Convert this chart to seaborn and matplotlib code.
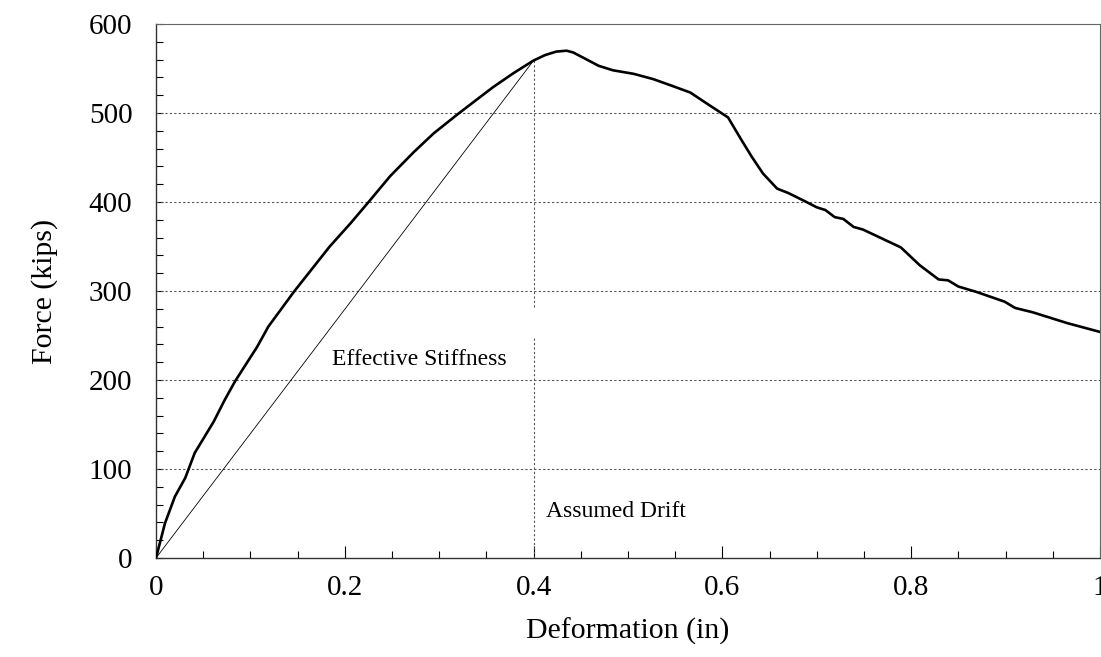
import matplotlib
matplotlib.use("Agg")
import matplotlib.pyplot as plt
from matplotlib.ticker import MultipleLocator
import seaborn as sns
import pandas as pd

# ---- data ----
deformation = [0.0, 0.0095, 0.020, 0.031, 0.041, 0.061, 0.073, 0.084, 0.107, 0.119,
               0.146, 0.184, 0.206, 0.226, 0.248, 0.273, 0.294, 0.320, 0.357, 0.379,
               0.400, 0.412, 0.424, 0.435, 0.442, 0.451, 0.469, 0.484, 0.506, 0.527,
               0.548, 0.566, 0.583, 0.606, 0.620, 0.631, 0.643, 0.658, 0.670, 0.689,
               0.700, 0.709, 0.719, 0.728, 0.739, 0.749, 0.767, 0.789, 0.809, 0.829,
               0.839, 0.850, 0.869, 0.899, 0.910, 0.929, 0.965, 1.000]
force = [0, 39, 69, 90, 118, 153, 178, 199, 237, 260,
         299, 350, 376, 401, 429, 456, 477, 499, 529, 545,
         559, 565, 569, 570, 568, 563, 553, 548, 544, 538,
         530, 523, 511, 495, 470, 451, 432, 415, 410, 400,
         394, 391, 383, 381, 372, 369, 360, 349, 329, 313,
         312, 305, 299, 288, 281, 276, 264, 254]

stiffness_x = [0.0, 0.400]
stiffness_y = [0, 559]

drift_x = 0.4
drift_segments = [(0, 250), (282, 559)]

x_ticks = [0, 0.2, 0.4, 0.6, 0.8, 1.0]
x_ticklabels = ["0", "0.2", "0.4", "0.6", "0.8", "1"]
y_ticks = [0, 100, 200, 300, 400, 500, 600]
grid_levels = [100, 200, 300, 400, 500]

df = pd.DataFrame({"Deformation": deformation, "Force": force})

sns.set_theme(style="ticks")
plt.rcParams["font.family"] = ["Liberation Serif", "DejaVu Serif"]
plt.rcParams["text.color"] = "black"
plt.rcParams["axes.labelcolor"] = "black"
plt.rcParams["xtick.color"] = "black"
plt.rcParams["ytick.color"] = "black"

fig = plt.figure(figsize=(11.01, 6.57), dpi=100)
ax = fig.add_axes([156 / 1101, 1 - 558 / 657, (1100 - 156) / 1101, (558 - 24) / 657])

# grid lines (horizontal, dotted)
for g in grid_levels:
    ax.axhline(g, color="#555555", lw=0.8, ls=(0, (2, 2)), zorder=1)

# assumed drift vertical line
for y0, y1 in drift_segments:
    ax.plot([drift_x, drift_x], [y0, y1], color="#555555", lw=0.8, ls=(0, (2, 2)), zorder=1)

# effective stiffness line
ax.plot(stiffness_x, stiffness_y, color="black", lw=0.6, zorder=2)

# main curve
sns.lineplot(data=df, x="Deformation", y="Force", color="black", lw=1.9,
             sort=False, estimator=None, ax=ax, zorder=3)

ax.text(0.186, 217, "Effective Stiffness", fontsize=17, ha="left", va="baseline", color="black")
ax.text(0.413, 46, "Assumed Drift", fontsize=17, ha="left", va="baseline", color="black")

ax.set_xlim(0, 1.0)
ax.set_ylim(0, 600)
ax.set_xticks(x_ticks)
ax.set_xticklabels(x_ticklabels)
ax.set_yticks(y_ticks)
ax.xaxis.set_minor_locator(MultipleLocator(0.05))
ax.yaxis.set_minor_locator(MultipleLocator(20))

ax.tick_params(axis="x", which="major", direction="in", length=9, width=0.8,
               labelsize=21, pad=12, colors="black")
ax.tick_params(axis="x", which="minor", direction="in", length=5, width=0.8)
ax.tick_params(axis="y", which="major", direction="in", length=5, width=0.8,
               labelsize=21, pad=17, colors="black")
ax.tick_params(axis="y", which="minor", direction="in", length=5, width=0.8)

ax.set_xlabel("Deformation (in)", fontsize=21.5, labelpad=12, color="black")
ax.set_ylabel("Force (kips)", fontsize=21.5, labelpad=22, color="black")

for side in ["left", "bottom"]:
    ax.spines[side].set_color("#333333")
    ax.spines[side].set_linewidth(1.0)
for side in ["top", "right"]:
    ax.spines[side].set_visible(True)
    ax.spines[side].set_color("#666666")
    ax.spines[side].set_linewidth(0.8)

fig.savefig("out.png", dpi=100, facecolor="white")
